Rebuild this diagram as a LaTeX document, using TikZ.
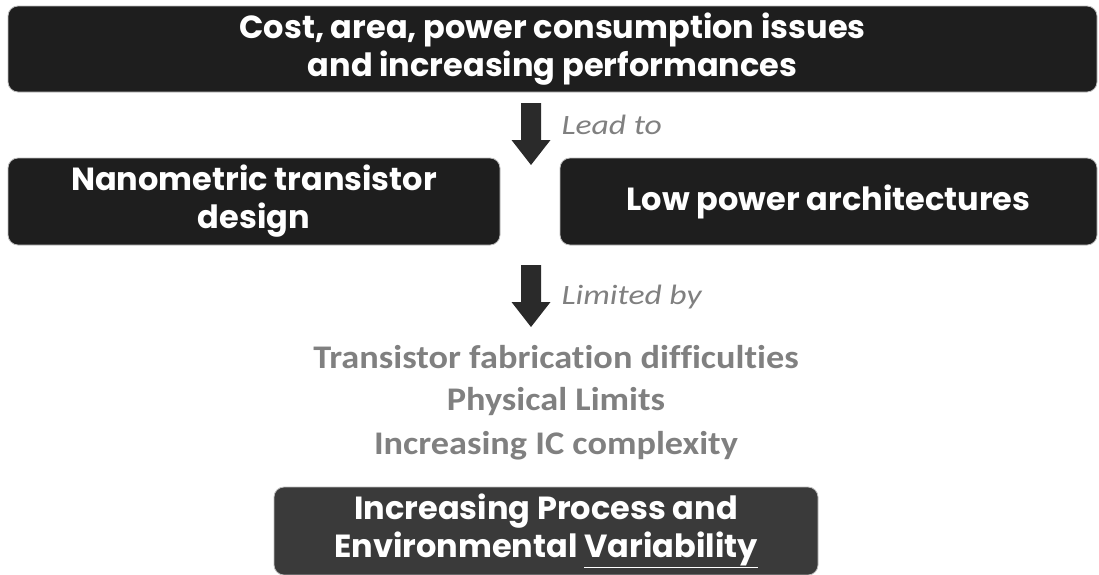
\documentclass[tikz,border=0pt]{standalone}
\usepackage{fontspec}
\setmainfont{Poppins}
\newfontfamily\calibri[Ligatures={NoCommon}]{Carlito}
\definecolor{boxdark}{HTML}{1E1E1E}
\definecolor{boxmid}{HTML}{3A3A3A}
\definecolor{arrowc}{HTML}{2A2A2A}
\definecolor{txtgray}{HTML}{808080}
\begin{document}
\begin{tikzpicture}[x=1pt,y=-1pt,
  darkbox/.style={draw=black!25,line width=0.8pt,fill=boxdark,rounded corners=10pt,text=white,
    font=\fontsize{32}{38}\selectfont\bfseries,align=center,inner sep=0pt},
  downarrow/.style={fill=arrowc,draw=none},
  note/.style={text=txtgray,font=\calibri\itshape\addfontfeature{FakeStretch=1.2}\fontsize{28}{32}\selectfont,anchor=west},
  limit/.style={text=txtgray,font=\calibri\bfseries\addfontfeature{FakeStretch=1.1}\fontsize{33}{38}\selectfont}]
\useasboundingbox (0,0) rectangle (1099,574);
\node[darkbox,minimum width=1089pt,minimum height=86pt] (top) at (552.5,49) {Cost, area, power consumption issues\\and increasing performances};
\coordinate (a1) at (531,103);
\fill[downarrow] (a1) ++(-10,0) -- ++(20,0) -- ++(0,37) -- ++(9.5,0) -- ++(-19.5,25) -- ++(-19.5,-25) -- ++(9.5,0) -- cycle;
\node[note] (lead) at (558,125) {Lead to};
\node[darkbox,minimum width=492pt,minimum height=87pt] (nano) at (254,201.5) {Nanometric transistor\\design};
\node[darkbox,minimum width=537pt,minimum height=87pt] (low) at (828.5,201.5) {Low power architectures};
\coordinate (a2) at (531,265);
\fill[downarrow] (a2) ++(-10,0) -- ++(20,0) -- ++(0,37) -- ++(9.5,0) -- ++(-19.5,25) -- ++(-19.5,-25) -- ++(9.5,0) -- cycle;
\node[note] (lim) at (558,297) {Limited by};
\node[limit] (l1) at (556,357) {Transistor fabrication difficulties};
\node[limit] (l2) at (556,402) {Physical Limits};
\node[limit] (l3) at (556,446) {Increasing IC complexity};
\node[darkbox,fill=boxmid,minimum width=544pt,minimum height=88pt] (var) at (546,531) {Increasing Process and\\Environmental \underline{Variability}};
\end{tikzpicture}
\end{document}
